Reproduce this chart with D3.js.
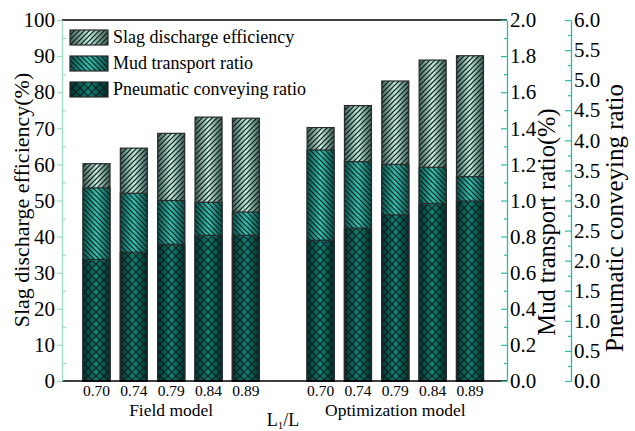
<!DOCTYPE html>
<html>
<head>
<meta charset="utf-8">
<script src="https://cdn.jsdelivr.net/npm/d3@7"></script>
<style>
  body { margin: 0; background: #fff; }
  svg text { font-family: "Liberation Serif", "Times New Roman", Times, serif; }
</style>
</head>
<body>
<svg id="chart" width="635" height="431"></svg>
<script>
// L1/L values and the two model groups
var ratios = ["0.70", "0.74", "0.79", "0.84", "0.89"];
var groups = ["Field model", "Optimization model"];

// Slag discharge efficiency (%) - left axis
var slagField = [60.2, 64.5, 68.6, 73.1, 72.8];
var slagOpt = [70.2, 76.3, 83.1, 88.9, 90.1];
// Mud transport ratio (%) - first right axis
var mudField = [1.07, 1.04, 1.00, 0.99, 0.936];
var mudOpt = [1.28, 1.215, 1.20, 1.184, 1.132];
// Pneumatic conveying ratio - second right axis
var pneuField = [2.02, 2.14, 2.27, 2.42, 2.42];
var pneuOpt = [2.34, 2.54, 2.76, 2.95, 2.99];

var leftTicks = [0, 10, 20, 30, 40, 50, 60, 70, 80, 90, 100];
var mudTicks = [0, 0.2, 0.4, 0.6, 0.8, 1.0, 1.2, 1.4, 1.6, 1.8, 2.0];
var pneuTicks = [0, 0.5, 1, 1.5, 2, 2.5, 3, 3.5, 4, 4.5, 5, 5.5, 6];

var seriesNames = ["Slag discharge efficiency", "Mud transport ratio", "Pneumatic conveying ratio"];

var svg = d3.select("#chart");

//Plot box (window.top is taken, so own names)
var plotLeft = 62, plotRight = 507, plotTop = 20, plotBottom = 381;

// one slot per bar, with an empty slot between the groups
var keys = [];
ratios.forEach(function(r){ keys.push("F" + r); });
keys.push("gap");
ratios.forEach(function(r){ keys.push("O" + r); });

var x = d3.scalePoint().domain(keys).range([96.5, 470]);
var barW = 27;

var yL = d3.scaleLinear().domain([0, 100]).range([plotBottom, plotTop]);
var yM = d3.scaleLinear().domain([0, 2]).range([plotBottom, plotTop]);
var yP = d3.scaleLinear().domain([0, 6]).range([plotBottom, plotTop]);

// gradients (cylinder look) and hatch patterns
var defs = svg.append("defs");
var grads = [
  {id: "gSlag", edge: "#3f615a", mid: "#c4ecdf"},
  {id: "gMud", edge: "#08544d", mid: "#2ec6b6"},
  {id: "gPneu", edge: "#03302b", mid: "#0e8478"}
];
grads.forEach(function(g){
  var lg = defs.append("linearGradient").attr("id", g.id)
    .attr("x1", 0).attr("x2", 1).attr("y1", 0).attr("y2", 0);
  lg.append("stop").attr("offset", "0%").attr("stop-color", g.edge);
  lg.append("stop").attr("offset", "50%").attr("stop-color", g.mid);
  lg.append("stop").attr("offset", "100%").attr("stop-color", g.edge);
});

function hatch(id, size, d){
  defs.append("pattern").attr("id", id)
    .attr("patternUnits", "userSpaceOnUse")
    .attr("width", size).attr("height", size)
    .append("path").attr("d", d)
    .attr("stroke", "#0c1a18").attr("stroke-width", 1.2).attr("fill", "none");
}
hatch("pSlag", 5, "M-1,1 l2,-2 M0,5 l5,-5 M4,6 l2,-2");
hatch("pMud", 5, "M-1,4 l2,2 M0,0 l5,5 M4,-1 l2,2");
hatch("pPneu", 8, "M0,0 l8,8 M8,0 l-8,8 M-1,7 l2,2 M7,-1 l2,2 M-1,1 l2,-2 M7,9 l2,-2");

var fills = [["gSlag", "pSlag"], ["gMud", "pMud"], ["gPneu", "pPneu"]];

// build bar rows per series
function rows(fieldVals, optVals, scale){
  var out = [];
  ratios.forEach(function(r, i){ out.push({key: "F" + r, y: scale(fieldVals[i])}); });
  ratios.forEach(function(r, i){ out.push({key: "O" + r, y: scale(optVals[i])}); });
  return out;
}
var barSets = [
  rows(slagField, slagOpt, yL),
  rows(mudField, mudOpt, yM),
  rows(pneuField, pneuOpt, yP)
];

var barsG = svg.append("g");
barSets.forEach(function(set, s){
  var g = barsG.append("g");
  g.selectAll("rect.base").data(set).enter().append("rect")
    .attr("class", "base")
    .attr("x", d => x(d.key) - barW / 2)
    .attr("y", d => d.y)
    .attr("width", barW)
    .attr("height", d => plotBottom - d.y)
    .attr("fill", "url(#" + fills[s][0] + ")");
  g.selectAll("rect.hatch").data(set).enter().append("rect")
    .attr("class", "hatch")
    .attr("x", d => x(d.key) - barW / 2)
    .attr("y", d => d.y)
    .attr("width", barW)
    .attr("height", d => plotBottom - d.y)
    .attr("fill", "url(#" + fills[s][1] + ")")
    .attr("stroke", "#2a2a2a")
    .attr("stroke-width", 1.2);
});

// frame lines top and bottom
svg.append("line").attr("x1", plotLeft).attr("x2", plotRight).attr("y1", plotTop).attr("y2", plotTop)
  .attr("stroke", "#000").attr("stroke-width", 1.5);
svg.append("line").attr("x1", plotLeft).attr("x2", plotRight).attr("y1", plotBottom).attr("y2", plotBottom)
  .attr("stroke", "#000").attr("stroke-width", 1.5);

// styles an axis group
function styleAxis(g, color, size){
  g.attr("font-family", null);
  g.select(".domain").attr("stroke", color).attr("stroke-width", 1.3);
  g.selectAll(".tick line").attr("stroke", color).attr("stroke-width", 1.2);
  g.selectAll(".tick text").attr("fill", "#000").attr("font-size", size);
}

// left axis
var leftColor = "#9fdcc6";
var gl = svg.append("g").attr("transform", "translate(" + plotLeft + ",0)")
  .call(d3.axisLeft(yL).tickValues(leftTicks).tickFormat(d3.format("d")).tickSize(5).tickSizeOuter(0).tickPadding(2));
styleAxis(gl, leftColor, 21);
var glm = svg.append("g").attr("transform", "translate(" + plotLeft + ",0)")
  .call(d3.axisRight(yL).tickValues(d3.range(5, 100, 10)).tickFormat("").tickSize(4).tickSizeOuter(0));
styleAxis(glm, leftColor, 21);
glm.select(".domain").remove();

// right axes (ticks point inward to the left)
var rightColor = "#2cb9a8";
function rightAxis(xpos, scale, major, minor, fmt){
  var g = svg.append("g").attr("transform", "translate(" + xpos + ",0)")
    .call(d3.axisRight(scale).tickValues(major).tickFormat(fmt).tickSize(0).tickSizeOuter(0).tickPadding(3));
  styleAxis(g, rightColor, 21);
  g.selectAll(".tick line").attr("x2", -6);
  var gm = svg.append("g").attr("transform", "translate(" + xpos + ",0)")
    .call(d3.axisLeft(scale).tickValues(minor).tickFormat("").tickSize(3).tickSizeOuter(0));
  styleAxis(gm, rightColor, 21);
  gm.select(".domain").remove();
}
rightAxis(plotRight, yM, mudTicks, d3.range(0.1, 2, 0.2), d3.format(".1f"));
rightAxis(571, yP, pneuTicks, d3.range(0.25, 6, 0.5), d3.format(".1f"));

// x labels
var xl = svg.append("g").attr("font-size", 15.5).attr("text-anchor", "middle");
keys.filter(k => k != "gap").forEach(function(k){
  xl.append("text").attr("x", x(k)).attr("y", 396).text(k.slice(1));
});
svg.append("text").attr("x", (x("F0.70") + x("F0.89")) / 2).attr("y", 415.5)
  .attr("text-anchor", "middle").attr("font-size", 17.5).text(groups[0]);
svg.append("text").attr("x", (x("O0.70") + x("O0.89")) / 2).attr("y", 415.5)
  .attr("text-anchor", "middle").attr("font-size", 17.5).text(groups[1]);
var xt = svg.append("text").attr("x", 283).attr("y", 426)
  .attr("text-anchor", "middle").attr("font-size", 18);
xt.append("tspan").text("L");
xt.append("tspan").attr("font-size", 11).attr("dy", 3).text("1");
xt.append("tspan").attr("dy", -3).text("/L");

// axis titles
function vTitle(xpos, ypos, size, txt){
  svg.append("text").attr("transform", "translate(" + xpos + "," + ypos + ") rotate(-90)")
    .attr("text-anchor", "middle").attr("font-size", size).text(txt);
}
vTitle(29, 200, 22, "Slag discharge efficiency(%)");
vTitle(555, 222, 24.5, "Mud transport ratio(%)");
vTitle(623, 218, 25, "Pneumatic conveying ratio");

// legend
var leg = svg.append("g");
seriesNames.forEach(function(name, i){
  var ly = 30 + i * 26;
  leg.append("rect").attr("x", 70).attr("y", ly).attr("width", 38).attr("height", 15)
    .attr("fill", "url(#" + fills[i][0] + ")");
  leg.append("rect").attr("x", 70).attr("y", ly).attr("width", 38).attr("height", 15)
    .attr("fill", "url(#" + fills[i][1] + ")").attr("stroke", "#2a2a2a").attr("stroke-width", 1.2);
  leg.append("text").attr("x", 113).attr("y", ly + 13).attr("font-size", 18).text(name);
});
</script>
</body>
</html>
